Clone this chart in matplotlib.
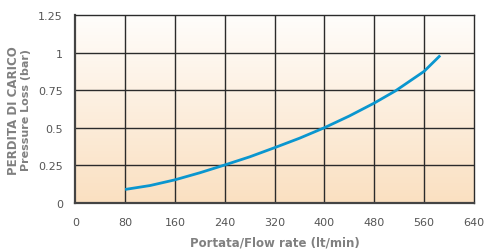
import numpy as np
import matplotlib.pyplot as plt
from matplotlib.colors import LinearSegmentedColormap

flow = np.array([80, 120, 160, 200, 240, 280, 320, 360, 400, 440, 480, 514, 560, 586])
loss = np.array([0.089, 0.115, 0.153, 0.2, 0.252, 0.306, 0.367, 0.43, 0.5, 0.578, 0.664, 0.745, 0.875, 0.981])

xticks = [0, 80, 160, 240, 320, 400, 480, 560, 640]
yticks = [0, 0.25, 0.5, 0.75, 1, 1.25]
ytick_labels = ['0', '0.25', '0.5', '0.75', '1', '1.25']

fig = plt.figure(figsize=(4.85, 2.51), dpi=100)
ax = fig.add_axes([0.1553, 0.188, 0.8217, 0.748])

# background gradient, white at top to peach at bottom
cmap = LinearSegmentedColormap.from_list('bg', ['#FAE0C1', '#FFFDFB'])
grad = np.linspace(0, 1, 256).reshape(-1, 1)
ax.imshow(grad, cmap=cmap, aspect='auto', origin='lower',
          extent=[0, 640, 0, 1.25], zorder=0)

for x in xticks[1:-1]:
    ax.axvline(x, color='#2b2b2b', lw=1.0, zorder=1)
for y in yticks[1:-1]:
    ax.axhline(y, color='#2b2b2b', lw=1.0, zorder=1)

ax.plot(flow, loss, color='#0A96CF', lw=2.0, zorder=3, solid_capstyle='butt')

ax.set_xlim(0, 640)
ax.set_ylim(0, 1.25)
ax.set_xticks(xticks)
ax.set_yticks(yticks)
ax.set_yticklabels(ytick_labels)
ax.tick_params(length=0, labelsize=8, labelcolor='#555555')
ax.tick_params(axis='x', pad=10)
ax.tick_params(axis='y', pad=9)
for s in ax.spines.values():
    s.set_color('#2b2b2b')
    s.set_linewidth(1.0)
ax.spines['left'].set_linewidth(1.6)
ax.spines['bottom'].set_linewidth(1.6)
ax.spines['left'].set_color('#444444')
ax.spines['bottom'].set_color('#444444')

ax.set_xlabel('Portata/Flow rate (lt/min)', fontsize=8.5, fontweight='bold',
              color='#808080', labelpad=6)
fig.text(0.028, 0.56, 'PERDITA DI CARICO', rotation=90, ha='center', va='center',
         fontsize=8.5, fontweight='bold', color='#808080')
fig.text(0.053, 0.56, 'Pressure Loss (bar)', rotation=90, ha='center', va='center',
         fontsize=8, fontweight='bold', color='#808080')

fig.savefig('out.png', dpi=100)
